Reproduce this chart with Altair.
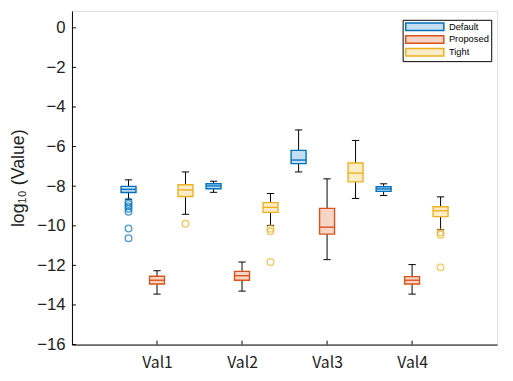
import altair as alt
import pandas as pd

# ---- data ----
categories = ["Val1", "Val2", "Val3", "Val4"]
methods = ["Default", "Proposed", "Tight"]

default_hi = [-7.68, -7.75, -5.16, -7.88]
default_q3 = [-8.01, -7.88, -6.19, -8.03]
default_med = [-8.16, -7.99, -6.68, -8.14]
default_q1 = [-8.32, -8.13, -6.86, -8.26]
default_lo = [-8.66, -8.31, -7.28, -8.47]

proposed_hi = [-12.27, -11.83, -7.63, -11.96]
proposed_q3 = [-12.55, -12.30, -9.12, -12.57]
proposed_med = [-12.75, -12.52, -10.07, -12.75]
proposed_q1 = [-12.94, -12.75, -10.42, -12.94]
proposed_lo = [-13.45, -13.30, -11.71, -13.45]

tight_hi = [-7.28, -8.37, -5.69, -8.54]
tight_q3 = [-7.93, -8.83, -6.83, -9.04]
tight_med = [-8.19, -9.07, -7.34, -9.24]
tight_q1 = [-8.52, -9.32, -7.78, -9.54]
tight_lo = [-9.42, -9.98, -8.62, -10.20]

outlier_method = ["Default"] * 7 + ["Tight"] * 7
outlier_cat = ["Val1"] * 7 + ["Val1", "Val2", "Val2", "Val2", "Val4", "Val4", "Val4"]
outlier_val = [-8.79, -8.90, -9.02, -9.14, -9.29, -10.14, -10.63,
               -9.90, -10.15, -10.28, -11.83, -10.33, -10.45, -12.10]

y_ticks = [-16, -14, -12, -10, -8, -6, -4, -2, 0]

# ---- styling ----
stroke_colors = ["#0072BD", "#D95319", "#EDB120"]
fill_colors = ["#c4dff2", "#f6d5c6", "#fbecc8"]
group_offset = {"Default": -0.335, "Proposed": 0.0, "Tight": 0.335}
box_half = 0.088
cap_half = 0.043

stats = {
    "Default": (default_lo, default_q1, default_med, default_q3, default_hi),
    "Proposed": (proposed_lo, proposed_q1, proposed_med, proposed_q3, proposed_hi),
    "Tight": (tight_lo, tight_q1, tight_med, tight_q3, tight_hi),
}

rows = []
for m in methods:
    lo, q1, med, q3, hi = stats[m]
    for i, c in enumerate(categories):
        pos = i + 1 + group_offset[m]
        rows.append(dict(method=m, cat=c, pos=pos,
                         bl=pos - box_half, br=pos + box_half,
                         cl=pos - cap_half, cr=pos + cap_half,
                         lo=lo[i], q1=q1[i], med=med[i], q3=q3[i], hi=hi[i]))
box_df = pd.DataFrame(rows)

out_df = pd.DataFrame({
    "method": outlier_method,
    "cat": outlier_cat,
    "v": outlier_val,
})
out_df["pos"] = [categories.index(c) + 1 + group_offset[m]
                 for c, m in zip(out_df["cat"], out_df["method"])]

tick_x_df = pd.DataFrame({"pos": [i + 1 for i in range(len(categories))]})
tick_y_df = pd.DataFrame({"v": y_ticks})

W, H = 432, 339

label_expr = "datum.value == 1 ? 'Val1' : datum.value == 2 ? 'Val2' : datum.value == 3 ? 'Val3' : datum.value == 4 ? 'Val4' : ''"


def X(field):
    return alt.X(field, type="quantitative",
                 scale=alt.Scale(domain=[0, 5], nice=False, zero=False),
                 axis=alt.Axis(values=[1, 2, 3, 4], labelExpr=label_expr, title=None,
                               ticks=False, grid=False, domainColor="black",
                               labelFont="Noto Sans CJK JP", labelFontSize=16,
                               labelColor="#222222", labelPadding=10, labelBaseline="top"))


def Y(field):
    return alt.Y(field, type="quantitative",
                 scale=alt.Scale(domain=[-16, 0.85], nice=False, zero=False),
                 axis=alt.Axis(values=y_ticks, title="log₁₀ (Value)", ticks=False,
                               grid=False, domainColor="black",
                               labelFont="Liberation Sans", labelFontSize=17,
                               labelColor="#222222", labelPadding=7,
                               titleFont="Liberation Sans", titleFontSize=18,
                               titleFontWeight="normal", titleColor="#222222",
                               titlePadding=9))


fill_scale = alt.Scale(domain=methods, range=fill_colors)
stroke_scale = alt.Scale(domain=methods, range=stroke_colors)

legend_kw = dict(title=None, orient="none", legendX=336, legendY=9,
                 fillColor="white", strokeColor="black", padding=2,
                 symbolType="M-1,-1H9V1H-1Z", symbolSize=60,
                 symbolStrokeWidth=1.5, labelFont="Liberation Sans",
                 labelFontSize=9.5, labelColor="black", labelOffset=35,
                 rowPadding=-1, cornerRadius=0)

base = alt.Chart(box_df)

whisk_up = base.mark_rule(color="black", strokeWidth=1).encode(x=X("pos"), y=Y("q3"), y2="hi")
whisk_lo = base.mark_rule(color="black", strokeWidth=1).encode(x=X("pos"), y=Y("lo"), y2="q1")
cap_up = base.mark_rule(color="black", strokeWidth=1).encode(x=X("cl"), x2="cr", y=Y("hi"))
cap_lo = base.mark_rule(color="black", strokeWidth=1).encode(x=X("cl"), x2="cr", y=Y("lo"))

boxes = base.mark_rect(strokeWidth=1.4).encode(
    x=X("bl"), x2="br", y=Y("q1"), y2="q3",
    fill=alt.Fill("method:N", scale=fill_scale, legend=alt.Legend(**legend_kw)),
    stroke=alt.Stroke("method:N", scale=stroke_scale, legend=alt.Legend(**legend_kw)),
)

medians = base.mark_rule(strokeWidth=1.4).encode(
    x=X("bl"), x2="br", y=Y("med"),
    stroke=alt.Stroke("method:N", scale=stroke_scale, legend=None),
)

outliers = alt.Chart(out_df).mark_point(shape="circle", filled=False, size=46, strokeWidth=1.3).encode(
    x=X("pos"), y=Y("v"),
    stroke=alt.Stroke("method:N", scale=stroke_scale, legend=None),
)

xticks = alt.Chart(tick_x_df).mark_rule(color="black", strokeWidth=1).encode(
    x=X("pos"), y=alt.value(H - 4), y2=alt.value(H))
yticks = alt.Chart(tick_y_df).mark_rule(color="black", strokeWidth=1).encode(
    y=Y("v"), x=alt.value(0), x2=alt.value(4))

chart = alt.layer(
    whisk_up, whisk_lo, cap_up, cap_lo, boxes, medians, outliers, xticks, yticks
).properties(
    width=W, height=H,
    autosize=alt.AutoSizeParams(type="none"),
    padding={"left": 65, "top": 0, "right": 8, "bottom": 34},
).configure_view(stroke=None).configure(background="white")

chart.save("out.html", embed_options={"renderer": "svg", "actions": False})
